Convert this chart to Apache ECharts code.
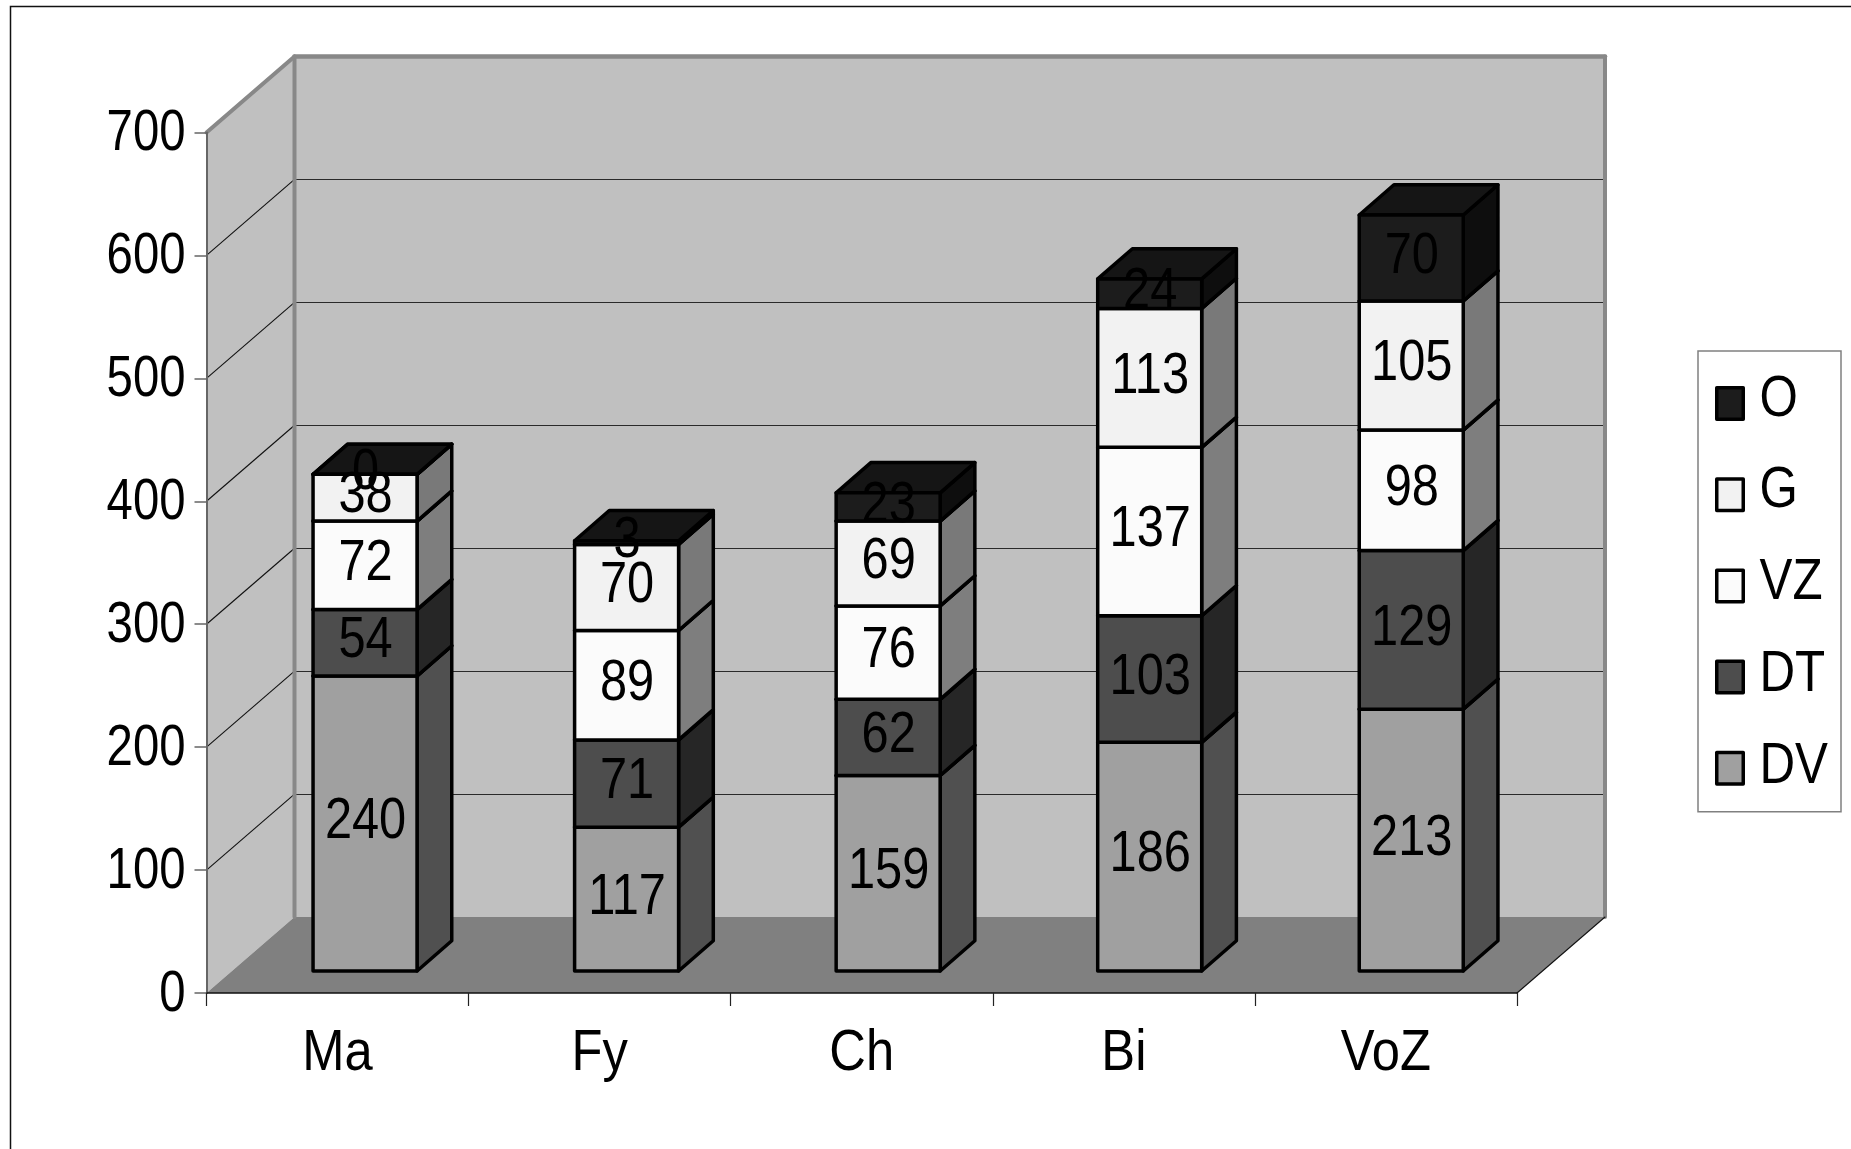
<!DOCTYPE html>
<html>
<head>
<meta charset="utf-8">
<style>html,body{margin:0;padding:0;background:#fff}#c{width:1851px;height:1149px}</style>
<script src="https://cdn.jsdelivr.net/npm/echarts@6/dist/echarts.min.js"></script>
</head>
<body>
<div id="c"></div>
<script>
const categories = ['Ma', 'Fy', 'Ch', 'Bi', 'VoZ'];
const DV = [240, 117, 159, 186, 213];
const DT = [54, 71, 62, 103, 129];
const VZ = [72, 89, 76, 137, 98];
const G  = [38, 70, 69, 113, 105];
const O  = [0, 3, 23, 24, 70];
const yTicks = [0, 100, 200, 300, 400, 500, 600, 700];
const seriesNames = ['DV', 'DT', 'VZ', 'G', 'O'];
const seriesValues = [DV, DT, VZ, G, O];
const legendOrder = ['O', 'G', 'VZ', 'DT', 'DV'];

const FONT = '"Liberation Sans", Arial, sans-serif';
const FS = 57;
const NARROW_TICK = 0.83, NARROW_VALUE = 0.855, NARROW_CAT = 0.89, NARROW_LEGEND = 0.865;
const WALL_DX = 88, WALL_DY = 76;
const faces = {
  DV: {front: '#a0a0a0', side: '#505050', top: '#808080'},
  DT: {front: '#4d4d4d', side: '#262626', top: '#3a3a3a'},
  VZ: {front: '#fbfbfb', side: '#7e7e7e', top: '#bcbcbc'},
  G:  {front: '#f2f2f2', side: '#797979', top: '#b6b6b6'},
  O:  {front: '#1c1c1c', side: '#0e0e0e', top: '#151515'}
};
const BAR_OFF_X = 27.5, BAR_OFF_Y = -22, BAR_HALF = 52, BAR_DX = 34.7, BAR_DY = 30.2, BAR_STEP_TRIM = 0.55;

function poly(points, fill, stroke, lw, z2) {
  return {type: 'polygon', shape: {points}, z2: z2 || 0,
    style: {fill: fill || 'none', stroke: stroke || 'none', lineWidth: lw || 0, lineJoin: 'round'}};
}
function line(a, b, stroke, lw, z2) {
  return {type: 'line', shape: {x1: a[0], y1: a[1], x2: b[0], y2: b[1]}, z2: z2 || 0,
    style: {stroke, lineWidth: lw, lineCap: 'round'}};
}
function label(text, x, y, align, narrow) {
  return {type: 'text', z2: 100, x, y, scaleX: narrow,
    style: {text: String(text), fill: '#000', font: FS + 'px ' + FONT, align, verticalAlign: 'middle'}};
}

function renderWalls(params, api) {
  const yMax = yTicks[yTicks.length - 1];
  const cs = params.coordSys;
  const x0 = cs.x, x1 = cs.x + cs.width;
  const y0 = api.coord([0, 0])[1], yT = api.coord([0, yMax])[1];
  const bx0 = x0 + WALL_DX, bx1 = x1 + WALL_DX;
  const children = [
    poly([[bx0, yT - WALL_DY], [bx1, yT - WALL_DY], [bx1, y0 - WALL_DY], [bx0, y0 - WALL_DY]], '#c0c0c0'),
    poly([[x0, yT], [bx0, yT - WALL_DY], [bx0, y0 - WALL_DY], [x0, y0]], '#c0c0c0'),
    poly([[x0, y0], [x1, y0], [bx1, y0 - WALL_DY], [bx0, y0 - WALL_DY]], '#808080')
  ];
  yTicks.slice(1, -1).forEach(t => {
    const y = api.coord([0, t])[1];
    children.push(line([x0, y], [bx0, y - WALL_DY], '#111', 1.1));
    children.push(line([bx0, Math.round(y - WALL_DY) + 0.5], [bx1, Math.round(y - WALL_DY) + 0.5], '#2a2a2a', 1.2));
  });
  children.push(line([bx0, yT - WALL_DY], [bx0, y0 - WALL_DY], '#888', 4));
  children.push(line([x0, yT], [bx0, yT - WALL_DY], '#888', 4));
  children.push(line([bx0, yT - WALL_DY], [bx1, yT - WALL_DY], '#888', 4.6));
  children.push(line([bx1, yT - WALL_DY], [bx1, y0 - WALL_DY], '#888', 4));
  children.push(line([x1, y0], [bx1, y0 - WALL_DY], '#111', 1.1));
  // tick labels, narrowed like the reference's type
  yTicks.forEach(t => {
    children.push(label(t, x0 - 21, api.coord([0, t])[1] + 2, 'right', NARROW_TICK));
  });
  categories.forEach((c, i) => {
    children.push(label(c, api.coord([i, 0])[0], y0 + 61.5, 'center', NARROW_CAT));
  });
  return {type: 'group', children};
}

function makeRender(name) {
  const c = faces[name];
  return function (params, api) {
    const i = api.value(0), lo = api.value(1), hi = api.value(2), val = api.value(3);
    const pLo = api.coord([i, lo]), pHi = api.coord([i, hi]);
    const cx = pLo[0] + BAR_OFF_X - i * BAR_STEP_TRIM;
    const l = cx - BAR_HALF, r = cx + BAR_HALF;
    const b = pLo[1] + BAR_OFF_Y, t = pHi[1] + BAR_OFF_Y;
    const S = '#000', W = 3.5;
    return {type: 'group', children: [
      poly([[r, b], [r + BAR_DX, b - BAR_DY], [r + BAR_DX, t - BAR_DY], [r, t]], c.side, S, W),
      poly([[l, t], [r, t], [r + BAR_DX, t - BAR_DY], [l + BAR_DX, t - BAR_DY]], c.top, S, W),
      poly([[l, b], [r, b], [r, t], [l, t]], c.front, S, W),
      label(val, cx + 0.5, (b + t) / 2 - 1, 'center', NARROW_VALUE)
    ]};
  };
}

const barSeries = seriesNames.map((name, si) => ({
  name, type: 'custom', coordinateSystem: 'cartesian2d', z: 3,
  renderItem: makeRender(name), clip: false, silent: true,
  encode: {x: 0, y: [1, 2]},
  itemStyle: {color: faces[name].front},
  data: categories.map((_, i) => {
    let base = 0;
    for (let k = 0; k < si; k++) base += seriesValues[k][i];
    return [i, base, base + seriesValues[si][i], seriesValues[si][i]];
  })
}));

const legendTexts = legendOrder.map((n, i) => ({
  type: 'text', z: 20, silent: true, x: 1759.5, y: 400 + i * 91.7, scaleX: NARROW_LEGEND,
  style: {text: n, fill: '#000', font: FS + 'px ' + FONT, align: 'left', verticalAlign: 'middle'}
}));

const chart = echarts.init(document.getElementById('c'), null, {renderer: 'canvas', width: 1851, height: 1149});
chart.setOption({
  animation: false,
  backgroundColor: '#fff',
  graphic: [{type: 'rect', z: 0, silent: true,
    shape: {x: 10.5, y: 6.5, width: 2400, height: 2400},
    style: {fill: 'none', stroke: '#111', lineWidth: 1.5}}].concat(legendTexts),
  grid: {left: 206.5, top: 132.5, width: 1310.5, height: 860.5, containLabel: false},
  legend: {
    orient: 'vertical', left: 1698, top: 351,
    data: legendOrder.map(n => ({name: n, icon: 'rect',
      itemStyle: {color: faces[n].front, borderColor: '#000', borderWidth: 3.5, borderJoin: 'round'}})),
    formatter: () => '',
    itemWidth: 26.5, itemHeight: 31.5, itemGap: 56.2, selectedMode: false,
    borderColor: '#808080', borderWidth: 1.5,
    padding: [35, 96, 26, 17],
    textStyle: {fontSize: 10, color: '#000'}
  },
  xAxis: {
    type: 'category', data: categories, z: 5, boundaryGap: true,
    axisLine: {show: true, lineStyle: {color: '#111', width: 1.5}},
    axisTick: {show: true, length: 13, lineStyle: {color: '#222', width: 1.2}},
    axisLabel: {show: false}
  },
  yAxis: {
    type: 'value', min: 0, max: 700, interval: 100, z: 5,
    splitLine: {show: false},
    axisLine: {show: true, lineStyle: {color: '#666', width: 2}},
    axisTick: {show: true, length: 12, lineStyle: {color: '#666', width: 1.5}},
    axisLabel: {show: false}
  },
  series: [{type: 'custom', name: 'walls', coordinateSystem: 'cartesian2d', z: 1, silent: true, clip: false,
    renderItem: renderWalls, data: [[0, 0]], encode: {x: 0, y: 1}}].concat(barSeries)
});
</script>
</body>
</html>
